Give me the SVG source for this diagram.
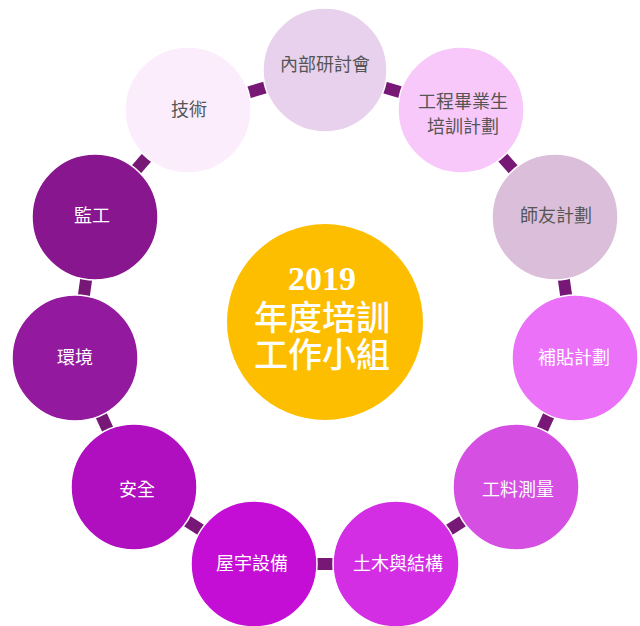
<svg xmlns="http://www.w3.org/2000/svg" width="640" height="626" viewBox="0 0 640 626">
<style>
.c{stroke:#ffffff;stroke-width:1.5}
.t{font-family:"Liberation Serif","Noto Sans CJK TC",serif;font-size:18px;text-anchor:middle}
.d{fill:#555555}
.w{fill:#ffffff}
.ct{font-family:"Liberation Serif","Noto Sans CJK TC",serif;font-size:34px;font-weight:bold;fill:#ffffff;text-anchor:middle}
.cj{font-weight:500}
#links line{stroke:#771877;stroke-width:12}
</style>
<rect width="640" height="626" fill="#ffffff"/>
<g id="links">
<line x1="325" y1="70" x2="461" y2="110"/>
<line x1="461" y1="110" x2="555" y2="217"/>
<line x1="555" y1="217" x2="575" y2="358"/>
<line x1="575" y1="358" x2="516" y2="487"/>
<line x1="516" y1="487" x2="396" y2="564"/>
<line x1="396" y1="564" x2="254" y2="564"/>
<line x1="254" y1="564" x2="134" y2="487"/>
<line x1="134" y1="487" x2="75" y2="358"/>
<line x1="75" y1="358" x2="95" y2="217"/>
<line x1="95" y1="217" x2="188" y2="110"/>
<line x1="188" y1="110" x2="325" y2="70"/>
</g>
<g id="center">
<circle cx="325" cy="322" r="98" fill="#fdbe00"/>
<text class="ct" x="322" y="290">2019</text>
<text class="ct cj" x="322" y="330">年度培訓</text>
<text class="ct cj" x="322" y="367">工作小組</text>
</g>
<g id="n1"><circle class="c" cx="325" cy="70" r="62" fill="#e8d1ec"/><text class="t d" x="325" y="71">內部研討會</text></g>
<g id="n2"><circle class="c" cx="461" cy="110" r="63" fill="#f8c8fa"/><text class="t d" x="463" y="108">工程畢業生</text><text class="t d" x="463" y="133">培訓計劃</text></g>
<g id="n3"><circle class="c" cx="555" cy="217" r="63" fill="#dbbfda"/><text class="t d" x="556" y="222">師友計劃</text></g>
<g id="n4"><circle class="c" cx="575" cy="358" r="63" fill="#eb72f8"/><text class="t w" x="574" y="364">補貼計劃</text></g>
<g id="n5"><circle class="c" cx="516" cy="487" r="63" fill="#d64fe3"/><text class="t w" x="518" y="496">工料測量</text></g>
<g id="n6"><circle class="c" cx="396" cy="564" r="63" fill="#d32ee3"/><text class="t w" x="398" y="570">土木與結構</text></g>
<g id="n7"><circle class="c" cx="254" cy="564" r="63" fill="#c40ed6"/><text class="t w" x="252" y="570">屋宇設備</text></g>
<g id="n8"><circle class="c" cx="134" cy="487" r="63" fill="#b00fc0"/><text class="t w" x="137" y="496">安全</text></g>
<g id="n9"><circle class="c" cx="75" cy="358" r="63" fill="#931a9e"/><text class="t w" x="75" y="364">環境</text></g>
<g id="n10"><circle class="c" cx="95" cy="217" r="63" fill="#88168f"/><text class="t w" x="92" y="222">監工</text></g>
<g id="n11"><circle class="c" cx="188" cy="110" r="63" fill="#fbedfc"/><text class="t d" x="189" y="116">技術</text></g>
</svg>
